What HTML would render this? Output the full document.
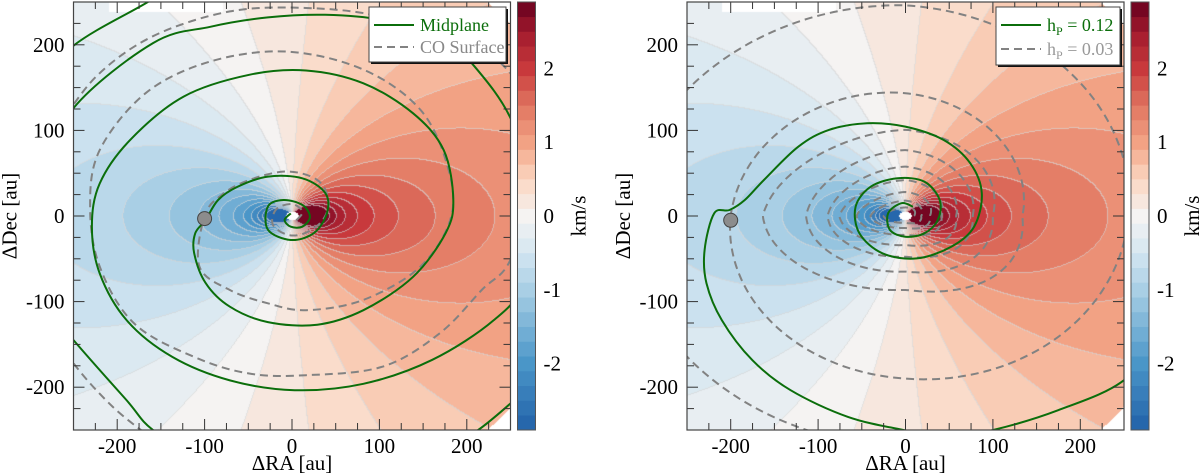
<!DOCTYPE html>
<html><head><meta charset="utf-8">
<style>
html,body{margin:0;padding:0;background:#fff;width:1200px;height:475px;overflow:hidden}
canvas{position:absolute}
svg{position:absolute;left:0;top:0;font-family:"Liberation Serif",serif}
text{font-family:"Liberation Serif",serif}
</style></head>
<body>
<canvas id="c1" style="left:73.5px;top:2px" width="437" height="428"></canvas>
<canvas id="c2" style="left:687px;top:2px" width="437" height="428"></canvas>
<svg id="s" width="1200" height="475" font-family="Liberation Serif, serif"></svg>
<script>
// ---- data ----
const xTicks=[-200,-100,0,100,200];
const yTicks=[-200,-100,0,100,200];
const cbTicks=[-2,-1,0,1,2];
const vRange=[-2.9,2.9];
const vStep=0.2;
const cmapVals=[-2.9,-2,-1,-0.5,0,0.5,1,1.5,2,2.5,2.9];
const cmapCols=["#2161a8","#4a96c8","#a9cfe5","#d4e6f1","#f5f3f2","#fbd6c1","#f2a284","#e07560","#c8393c","#a11a2d","#67001f"];
const fieldK=16, fieldCosI=0.75, fieldOffset=0.25;
const planetLeft=[-100,-3], planetRight=[-200,-5];
const midplane=[[-1.4,3],[-8.5,-4.7],[-1.4,-12.5],[11.8,-12.5],[20.5,-1],[11.8,13],[-10,18.7],[-27.6,11],[-27.6,-16],[-1.4,-28],[25,-20],[40,3.5],[38,27],[11.8,44],[-27.6,46],[-62.6,34],[-84.5,18.7],[-99,-4.7],[-110.6,-20],[-112,-43],[-99,-78],[-71,-106],[-27.6,-124],[29,-127],[81.7,-110],[138.6,-71],[175.7,-20],[184.6,18.7],[173.6,77],[138.6,120],[81.7,155],[16,170],[-49,165],[-124,139.5],[-185,89],[-220,38],[-229,-12.5],[-220,-67],[-189,-122],[-137,-164.6],[-71,-192],[3,-203.5],[81.7,-196],[160.5,-168],[230.5,-122],[262,-80],[275,20],[252,110],[208.6,175],[169,210],[103.6,229],[38,235],[-27.6,232],[-93.5,221],[-159,202],[-250,126],[-290,40]];
const midplaneOuter=[[-320,-60],[-250,-145],[-189.5,-215],[-159,-250],[-100,-285]];
const midplaneCorner=[[150,-290],[213,-250],[260,-210]];
const midplaneTopLeft=[[-300,140],[-250,199],[-165,250],[-120,280]];
const coSurface=[[5,-5],[12,5],[0,14],[-18,8],[-22,-10],[-5,-22],[15,-20],[35,-5],[42,18],[29,42],[-6,52],[-49,42],[-80,25],[-100,0],[-106,-59],[-71,-86.5],[-27.6,-102],[16,-110],[81.7,-98],[147,-59],[182,-1],[178,58],[147,124],[81.7,171],[-6,192],[-93.5,180.5],[-167.5,143.5],[-220,77],[-231,11],[-220,-59],[-180.7,-125.5],[-112,-164.6],[-49,-184],[16,-186],[103.6,-176],[169,-137],[217,-86.5],[250,-51],[275,40]];
const coSurfaceOuter=[[265,150],[208.6,202],[103.6,233],[16,243],[-71,239],[-159,210],[-224,163],[-270,100]];
const coSurfaceCorner=[[-280,-120],[-250,-172],[-205,-223],[-160,-260]];
const hp12=[[8.6,10.9],[-4.6,14.9],[-19.9,3.2],[-17.7,-16.4],[-0.2,-24.2],[21.6,-20.2],[37,-4.7],[39.1,18.7],[21.6,40.1],[-8.9,44.1],[-39.6,34.3],[-57.1,10.9],[-52.7,-20.2],[-26.4,-43.6],[12.9,-49.5],[52.3,-35.9],[78.5,-12.5],[87.3,26.5],[74.1,61.6],[43.5,88.9],[-0.2,104.4],[-43.9,108.4],[-87.6,100.6],[-122.7,81],[-162,42],[-183.9,18.7],[-201.4,7],[-218.9,3.1],[-229.9,-39.8],[-227.7,-78.7],[-210.2,-121.6],[-175.2,-168.4],[-131.5,-203.5],[-65.8,-234.7],[-0.2,-250.3],[50,-258],[100.3,-250],[174.7,-226.9],[250,-191.8],[300,-130]];
const hp03Ang=[0,90,180,270,360,450,540,630,720,810,900,990,1080,1170,1260,1350,1440,1530,1620,1710,1800,1890,1980,2070,2160,2250,2340,2430,2520,2610,2700,2790,2880,2970,3060,3150];
const hp03Rad=[10,10,25,8,18,18,40,14,28,28,56,22,41,42,75.5,34,58,57.7,89,47.6,77,77,113.6,65,100,100.6,163,86.5,134,143.5,200,190,255,246,320,270];

// ---- helpers ----
const NS="http://www.w3.org/2000/svg";
const svg=document.getElementById('s');
function el(tag,attrs,parent){const e=document.createElementNS(NS,tag);for(const k in attrs)e.setAttribute(k,attrs[k]);if(tag==='text')e.setAttribute('font-family','Liberation Serif, serif');(parent||svg).appendChild(e);return e;}
const PW=437,PH=428,PT=2;
function hex(c){return [parseInt(c.substr(1,2),16),parseInt(c.substr(3,2),16),parseInt(c.substr(5,2),16)];}
function cmap(v){
  if(v<=cmapVals[0])return hex(cmapCols[0]);
  for(let i=1;i<cmapVals.length;i++){if(v<=cmapVals[i]){const t=(v-cmapVals[i-1])/(cmapVals[i]-cmapVals[i-1]);const a=hex(cmapCols[i-1]),b=hex(cmapCols[i]);return a.map((x,j)=>Math.round(x+(b[j]-x)*t));}}
  return hex(cmapCols[cmapCols.length-1]);
}
const nLev=Math.round((vRange[1]-vRange[0])/vStep);
function levelOf(v){let k=Math.floor((v-vRange[0])/vStep);return Math.max(0,Math.min(nLev-1,k));}
function levelColor(k){return cmap(vRange[0]+(k+0.5)*vStep);}

function drawField(id){
  const c=document.getElementById(id),ctx=c.getContext('2d');
  const img=ctx.createImageData(PW,PH);const L=new Int16Array(PW*PH);
  for(let j=0;j<PH;j++)for(let i=0;i<PW;i++){
    const x=-250+(i+0.5)*500/PW, y=250-(j+0.5)*500/PH;
    const rs=Math.hypot(x,y);
    let mask=(x>0&&rs>335)||(x>-210&&x<-80&&y>238);
    const r=Math.hypot(x,y/fieldCosI);
    if(r<7)mask=true;
    if(mask){L[j*PW+i]=-1;continue;}
    const v=fieldK*x/Math.pow(Math.max(r,5),1.5)+fieldOffset;
    L[j*PW+i]=levelOf(v);
  }
  for(let j=0;j<PH;j++)for(let i=0;i<PW;i++){
    const k=L[j*PW+i],p=(j*PW+i)*4;
    let col;
    if(k<0)col=[255,255,255];
    else{
      const rN=i<PW-1?L[j*PW+i+1]:k, dN=j<PH-1?L[(j+1)*PW+i]:k;
      if((rN>=0&&rN!==k)||(dN>=0&&dN!==k)){const b=levelColor(k);col=b.map(x=>Math.round(x*0.35+215*0.65));}
      else col=levelColor(k);
    }
    img.data[p]=col[0];img.data[p+1]=col[1];img.data[p+2]=col[2];img.data[p+3]=255;
  }
  ctx.putImageData(img,0,0);
}
drawField('c1');drawField('c2');

function catmull(pts){
  let d="M"+pts[0][0].toFixed(1)+","+pts[0][1].toFixed(1);
  for(let i=0;i<pts.length-1;i++){
    const p0=pts[i-1]||pts[i],p1=pts[i],p2=pts[i+1],p3=pts[i+2]||p2;
    const c1=[p1[0]+(p2[0]-p0[0])/6,p1[1]+(p2[1]-p0[1])/6],c2=[p2[0]-(p3[0]-p1[0])/6,p2[1]-(p3[1]-p1[1])/6];
    d+="C"+c1[0].toFixed(1)+","+c1[1].toFixed(1)+" "+c2[0].toFixed(1)+","+c2[1].toFixed(1)+" "+p2[0].toFixed(1)+","+p2[1].toFixed(1);
  }
  return d;
}

function panel(x0,name,curves,planet,legend){
  const sx=x=>x0+(x+250)*PW/500, sy=y=>PT+(250-y)*PH/500;
  const g=el('g',{});
  
  
  const cp=el('clipPath',{id:'clip-'+name},g);
  el('rect',{x:x0,y:PT,width:PW,height:PH},cp);
  const cg=el('g',{'clip-path':'url(#clip-'+name+')'},g);
  curves.forEach(cv=>{
    const p=el('path',{d:catmull(cv.pts.map(q=>[sx(q[0]),sy(q[1])])),fill:'none',stroke:cv.color,'stroke-width':2,'stroke-dasharray':cv.dash||'none'},cg);
    
    
  });
  const pc=el('circle',{cx:sx(planet[0]),cy:sy(planet[1]),r:7,fill:'#8c8c8c',stroke:'#444','stroke-width':1},cg);
  
  
  for(let v=-250;v<=250;v+=25){
    const major=v%100===0, len=major?11:7;
    const X=sx(v),Y=sy(v);
    el('line',{x1:X,y1:PT+PH,x2:X,y2:PT+PH-len,stroke:'#333','stroke-width':1},g);
    el('line',{x1:X,y1:PT,x2:X,y2:PT+len,stroke:'#333','stroke-width':1},g);
    el('line',{x1:x0,y1:Y,x2:x0+len,y2:Y,stroke:'#333','stroke-width':1},g);
    el('line',{x1:x0+PW,y1:Y,x2:x0+PW-len,y2:Y,stroke:'#333','stroke-width':1},g);
  }
  el('rect',{x:x0,y:PT,width:PW,height:PH,fill:'none',stroke:'#444','stroke-width':1.2},g);
  xTicks.forEach(v=>{const t=el('text',{x:sx(v),y:453,'font-size':21,'text-anchor':'middle'},g);t.textContent=v;
    });
  yTicks.forEach(v=>{const t=el('text',{x:x0-9,y:sy(v)+7,'font-size':21,'text-anchor':'end'},g);t.textContent=v;
    });
  const xt=el('text',{x:x0+PW/2,y:470,'font-size':21,'text-anchor':'middle'},g);xt.textContent='ΔRA [au]';
  
  const yt=el('text',{x:0,y:0,'font-size':21,'text-anchor':'middle',transform:'translate('+(x0-57)+','+(PT+PH/2)+') rotate(-90)'},g);yt.textContent='ΔDec [au]';
  
  const cx=x0+PW+7,cw=18;
  const cb=el('g',{},g);
  
  const cy=v=>PT+PH-(v-vRange[0])/(vRange[1]-vRange[0])*PH;
  for(let k=0;k<nLev;k++){const c=levelColor(k);
    el('rect',{x:cx,y:cy(vRange[0]+(k+1)*vStep),width:cw,height:PH/nLev+0.3,fill:'rgb('+c.join(',')+')'},cb);}
  el('rect',{x:cx,y:PT,width:cw,height:PH,fill:'none',stroke:'#555','stroke-width':1},cb);
  cbTicks.forEach(v=>{const t=el('text',{x:cx+cw+8,y:cy(v)+7,'font-size':21},cb);t.textContent=v;
    });
  const ct=el('text',{x:0,y:0,'font-size':21,'text-anchor':'middle',transform:'translate('+(cx+cw+50)+','+(PT+PH/2)+') rotate(-90)'},cb);ct.textContent='km/s';
  
  const lg=el('g',{},g);
  
  el('rect',{x:legend.x+2,y:9,width:legend.w,height:legend.h,fill:'#111'},lg);
  el('rect',{x:legend.x,y:7,width:legend.w,height:legend.h,fill:'#fff',stroke:'#444','stroke-width':1},lg);
  legend.items.forEach((it,i)=>{
    const yy=legend.rows[i];
    el('line',{x1:legend.x+5,y1:yy,x2:legend.x+45,y2:yy,stroke:it.color,'stroke-width':2,'stroke-dasharray':it.dash||'none'},lg);
    const t=el('text',{x:legend.x+51,y:yy+6,'font-size':18,fill:it.tcolor},lg);
    t.innerHTML=it.label;
    
  });
}

function polarDense(){
  const hA=[],hR=[],vA=[],vR=[];
  hp03Ang.forEach((a,i)=>{if(a%180===0){hA.push(a);hR.push(hp03Rad[i]);}else{vA.push(a);vR.push(hp03Rad[i]);}});
  function interp(A,R,a){if(a<=A[0])return R[0];for(let i=1;i<A.length;i++)if(a<=A[i]){const f=(a-A[i-1])/(A[i]-A[i-1]);return R[i-1]+(R[i]-R[i-1])*f;}return R[R.length-1];}
  const out=[];const a0=hp03Ang[0],a1=hp03Ang[hp03Ang.length-1];
  for(let a=a0;a<=a1;a+=6){const t=a*Math.PI/180;out.push([interp(hA,hR,a)*Math.cos(t),interp(vA,vR,a)*Math.sin(t)]);}
  return out;
}

const G='#0b6e0b',GR='#828282';
panel(73.5,'left',[
  {pts:coSurface,color:GR,dash:'8 5',name:'co-surface-spiral'},
  {pts:coSurfaceOuter,color:GR,dash:'8 5',name:'co-surface-spiral-outer'},
  {pts:coSurfaceCorner,color:GR,dash:'8 5',name:'co-surface-spiral-corner'},
  {pts:midplane,color:G,name:'midplane-spiral'},
  {pts:midplaneOuter,color:G,name:'midplane-spiral-outer'},
  {pts:midplaneCorner,color:G,name:'midplane-spiral-corner'},
  {pts:midplaneTopLeft,color:G,name:'midplane-spiral-topleft'}],planetLeft,
  {x:369,w:137,h:55,rows:[25,47],items:[
    {color:G,tcolor:G,label:'Midplane'},
    {color:GR,tcolor:'#888',dash:'8 5',label:'CO Surface'}]});
panel(687,'right',[
  {pts:polarDense(),color:GR,dash:'8 5',name:'hp-003-spiral'},
  {pts:hp12,color:G,name:'hp-012-spiral'}],planetRight,
  {x:996,w:124,h:58,rows:[25,49],items:[
    {color:G,tcolor:G,label:'h<tspan font-size="12" dy="4">P</tspan><tspan dy="-4"> = 0.12</tspan>'},
    {color:GR,tcolor:'#999',dash:'8 5',label:'h<tspan font-size="12" dy="4">P</tspan><tspan dy="-4"> = 0.03</tspan>'}]});
</script>
</body></html>
